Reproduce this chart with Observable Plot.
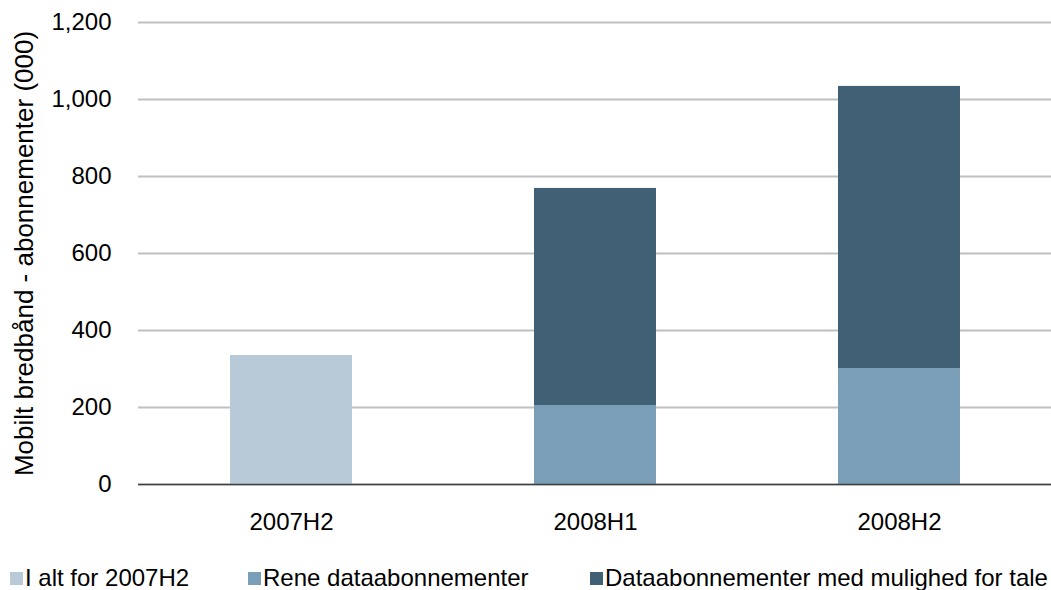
<!DOCTYPE html>
<html>
<head>
<meta charset="utf-8">
<script src="https://cdn.jsdelivr.net/npm/d3@7"></script>
<script src="https://cdn.jsdelivr.net/npm/@observablehq/plot@0.6"></script>
<style>
  html, body { margin: 0; padding: 0; background: #fff; }
  body { width: 1051px; height: 590px; overflow: hidden; font-family: "Liberation Sans", Arial, sans-serif; }
  #chart svg text { font-size: 24px !important; fill: #000; }
  #chart svg g[aria-label="y-axis label"] text { font-size: 26px !important; }
  #legend { height: 30px; margin-top: 18px; font-size: 24px; color: #000; position: relative; }
  .item { position: absolute; top: 0; height: 30px; display: flex; align-items: center; white-space: nowrap; }
  .sw { width: 13px; height: 13px; margin-right: 2px; }
</style>
</head>
<body>
<div id="chart"></div>
<div id="legend"></div>
<script>
const periods = ["2007H2", "2008H1", "2008H2"];
const seriesNames = ["I alt for 2007H2", "Rene dataabonnementer", "Dataabonnementer med mulighed for tale"];
const seriesColors = ["#B8C9D7", "#7A9EB7", "#3F6075"];
const totalValues = [335, 0, 0];
const pureDataValues = [0, 205, 301];
const voiceDataValues = [0, 564, 733];
const yTicks = [0, 200, 400, 600, 800, 1000, 1200];

const seriesValues = [totalValues, pureDataValues, voiceDataValues];
const data = [];
seriesNames.forEach((s, i) => {
  periods.forEach((p, j) => {
    if (seriesValues[i][j] > 0) data.push({period: p, series: s, value: seriesValues[i][j], order: i});
  });
});

const chart = Plot.plot({
  width: 1051,
  height: 545,
  marginLeft: 138,
  marginRight: 0,
  marginTop: 22,
  marginBottom: 61,
  style: {fontFamily: "Liberation Sans, Arial, sans-serif", fontSize: "24px", color: "#000", background: "#fff"},
  x: {domain: periods, paddingInner: 0.6, paddingOuter: 0.3},
  y: {domain: [0, 1200]},
  color: {domain: seriesNames, range: seriesColors},
  marks: [
    Plot.gridY(yTicks, {stroke: "#C0C0C0", strokeOpacity: 1, strokeWidth: 2}),
    Plot.barY(data, Plot.stackY({x: "period", y: "value", fill: "series", order: "order"})),
    Plot.ruleY([0], {stroke: "#404040", strokeWidth: 1.5}),
    Plot.axisY(yTicks, {
      tickSize: 0, tickPadding: 27, tickFormat: d3.format(","),
      label: "Mobilt bredbånd - abonnementer (000)", labelAnchor: "center", labelArrow: "none", labelOffset: 124,
      fontSize: 24
    }),
    Plot.axisX({tickSize: 0, tickPadding: 28, label: null, fontSize: 24})
  ]
});
document.getElementById("chart").appendChild(chart);

const legend = document.getElementById("legend");
const positions = [10, 248, 590];
seriesNames.forEach((s, i) => {
  const it = document.createElement("div");
  it.className = "item";
  it.style.left = positions[i] + "px";
  const sw = document.createElement("span");
  sw.className = "sw";
  sw.style.background = seriesColors[i];
  const tx = document.createElement("span");
  tx.textContent = s;
  it.appendChild(sw);
  it.appendChild(tx);
  legend.appendChild(it);
});
</script>
</body>
</html>
